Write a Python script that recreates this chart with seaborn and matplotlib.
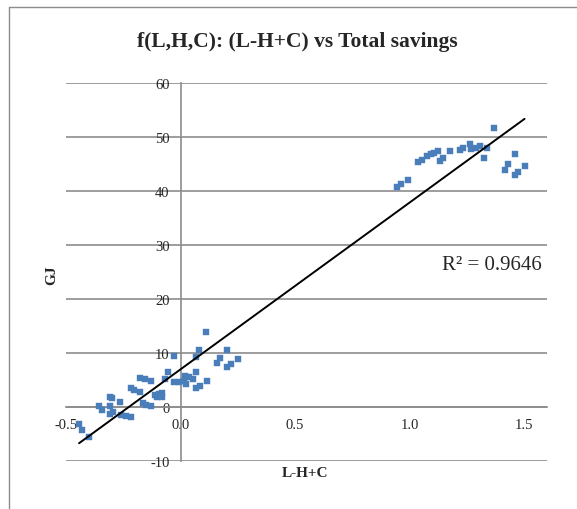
import numpy as np
import pandas as pd
import matplotlib
matplotlib.use("Agg")
import matplotlib.pyplot as plt
import seaborn as sns
from matplotlib.lines import Line2D

lhc = [-0.443, -0.428, -0.399, -0.356, -0.341, -0.309, -0.298, -0.309, -0.309, -0.295,
       -0.266, -0.259, -0.237, -0.218, -0.218, -0.204, -0.176, -0.175, -0.154, -0.131,
       -0.165, -0.150, -0.128, -0.111, -0.096, -0.082, -0.082, -0.102, -0.067, -0.053,
       -0.027, -0.027, -0.005, 0.014, 0.024, 0.020, 0.038, 0.053, 0.067, 0.067,
       0.086, 0.114, 0.067, 0.082, 0.111, 0.159, 0.173, 0.202, 0.202, 0.220, 0.249,
       0.945, 0.962, 0.991, 1.038, 1.053, 1.077, 1.092, 1.107, 1.125, 1.133,
       1.147, 1.176, 1.220, 1.234, 1.263, 1.270, 1.289, 1.307, 1.324, 1.338,
       1.367, 1.415, 1.430, 1.459, 1.459, 1.473, 1.502]
gj = [-3.1, -4.2, -5.5, 0.2, -0.5, 1.8, 1.6, 0.1, -1.3, -1.0,
      1.0, -1.5, -1.7, -1.9, 3.5, 3.2, 2.7, 5.3, 5.2, 4.9,
      0.7, 0.4, 0.2, 2.2, 2.4, 2.6, 1.8, 1.8, 5.2, 6.4,
      9.5, 4.7, 4.7, 4.9, 4.3, 5.8, 5.5, 5.2, 6.4, 3.6,
      3.9, 4.8, 9.2, 10.6, 13.8, 8.1, 9.0, 10.6, 7.5, 8.0, 8.9,
      40.7, 41.3, 42.0, 45.4, 45.7, 46.5, 46.9, 47.0, 47.4, 45.6,
      46.2, 47.5, 47.6, 48.0, 48.7, 47.8, 48.0, 48.3, 46.2, 47.9,
      51.7, 43.9, 45.0, 46.9, 43.0, 43.6, 44.6]

title = "f(L,H,C): (L-H+C) vs Total savings"
xlabel = "L-H+C"
ylabel = "GJ"
r2_label = "R² = 0.9646"
xticks = [-0.5, 0.0, 0.5, 1.0, 1.5]
xtick_labels = ["-0.5", "0.0", "0.5", "1.0", "1.5"]
yticks = [-10, 0, 10, 20, 30, 40, 50, 60]

df = pd.DataFrame({"x": lhc, "y": gj})

sns.set_style("white")
plt.rcParams["font.family"] = ["Liberation Serif", "DejaVu Serif"]
plt.rcParams["axes.unicode_minus"] = False

fig = plt.figure(figsize=(5.77, 5.10), dpi=100)
border_c = "#8c8c8c"
fig.add_artist(Line2D([9/577, 9/577], [0, 1 - 8/510], transform=fig.transFigure,
                      color=border_c, lw=1.0))
fig.add_artist(Line2D([9/577, 1], [1 - 8/510, 1 - 8/510], transform=fig.transFigure,
                      color=border_c, lw=1.0))
ax = fig.add_axes([66/577, 1 - 462/510, 481/577, 378/510])

grid_c = "#8c8c8c"
for yv in yticks:
    ax.axhline(yv, color=grid_c, lw=1.2, zorder=0)

sns.scatterplot(data=df, x="x", y="y", marker="s", s=22, color="#4a7ebb",
                edgecolor="#4a7ebb", linewidth=0.3, ax=ax, zorder=3)
sns.regplot(data=df, x="x", y="y", scatter=False, ci=None, truncate=True,
            line_kws={"color": "black", "lw": 1.4, "zorder": 4}, ax=ax)

ax.set_xlim(-0.5, 1.6)
ax.set_ylim(-10, 60)
ax.spines["left"].set_position(("data", 0))
ax.spines["bottom"].set_position(("data", 0))
ax.spines["top"].set_visible(False)
ax.spines["right"].set_visible(False)
for s in ["left", "bottom"]:
    ax.spines[s].set_color(grid_c)
    ax.spines[s].set_linewidth(1.2)
ax.set_xticks(xticks)
ax.set_xticklabels(xtick_labels)
ax.set_yticks(yticks)
ax.tick_params(axis="both", direction="out", length=5, width=1.2, color=grid_c,
               labelsize=10.5, pad=3)
ax.set_xlabel("")
ax.set_ylabel("")

fig.text(305/577, 1 - 474/510, xlabel, ha="center", va="center", fontsize=11, fontweight="bold")
fig.text(52/577, 1 - 275/510, ylabel, ha="center", va="center", fontsize=11,
         fontweight="bold", rotation=90)
fig.text(297/577, 1 - 42/510, title, ha="center", va="center", fontsize=15.5, fontweight="bold")
fig.text(492/577, 1 - 266/510, r2_label, ha="center", va="center", fontsize=15)

fig.savefig("out.png", dpi=100)
